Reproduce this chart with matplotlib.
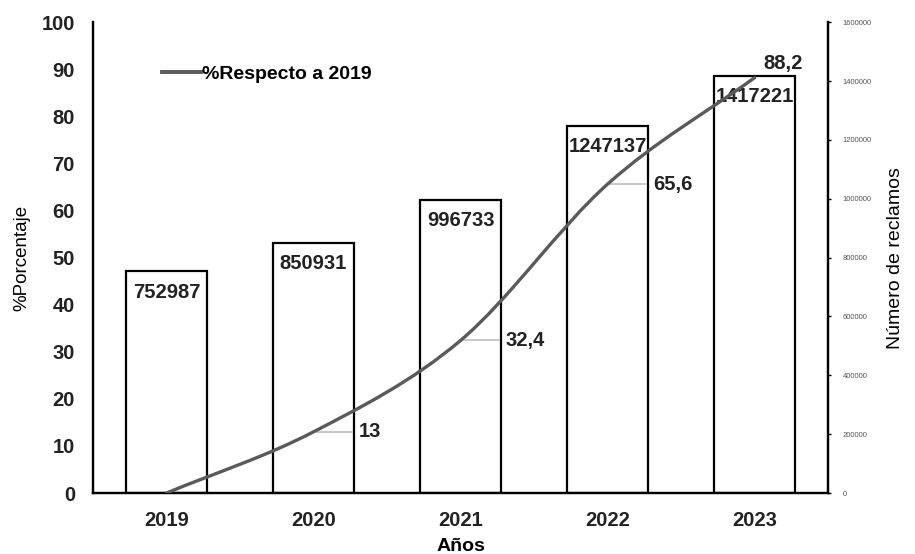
import matplotlib.pyplot as plt
from matplotlib.path import Path
from matplotlib.patches import PathPatch
from matplotlib.lines import Line2D
from matplotlib.ticker import FuncFormatter
import numpy as np

plt.rcParams['font.family'] = ['Liberation Sans', 'DejaVu Sans']

# --- Data ---
years = ['2019', '2020', '2021', '2022', '2023']
reclamos = [752987, 850931, 996733, 1247137, 1417221]
pct_respecto_2019 = [0, 13, 32.4, 65.6, 88.2]
pct_labels = ['', '13', '32,4', '65,6', '88,2']

x = np.arange(len(years))
line_color = '#5a5a5a'
text_color = '#222222'

fig = plt.figure(figsize=(9.15, 5.54), dpi=100)
ax = fig.add_axes([0.1016, 0.110, 0.8034, 0.850])
ax2 = ax.twinx()

# bars on the right axis (number of claims)
ax2.bar(x, reclamos, width=0.55, color='white', edgecolor='black', linewidth=1.6, zorder=2)
for xi, v in zip(x, reclamos):
    ax2.annotate(str(v), (xi, v), xytext=(0, -15), textcoords='offset points',
                 ha='center', va='center', fontsize=14.5, fontweight='bold', color=text_color)
ax2.set_ylim(0, 1600000)
ax2.set_yticks(np.arange(0, 1600001, 200000))
ax2.yaxis.set_major_formatter(FuncFormatter(lambda v, p: f'{int(v)}'))
ax2.tick_params(axis='y', labelsize=5.5, labelcolor='#555555', length=2.5, width=1, pad=8)
ax2.set_ylabel('Número de reclamos', fontsize=14, labelpad=11)

# keep the percentage line above the bars
ax.set_zorder(ax2.get_zorder() + 1)
ax.patch.set_visible(False)

# smoothed line (cubic Bezier segments through each point, reflected ends)
pts = np.column_stack([x, pct_respecto_2019]).astype(float)
padded = np.vstack([2 * pts[0] - pts[1], pts, 2 * pts[-1] - pts[-2]])
verts = [pts[0]]
codes = [Path.MOVETO]
for i in range(len(pts) - 1):
    p0, p1, p2, p3 = padded[i], padded[i + 1], padded[i + 2], padded[i + 3]
    verts += [p1 + (p2 - p0) / 6, p2 - (p3 - p1) / 6, p2]
    codes += [Path.CURVE4] * 3
ax.add_patch(PathPatch(Path(verts, codes), fill=False, edgecolor=line_color,
                       linewidth=2.4, capstyle='round', zorder=3))

# value labels with short leader lines
for xi, v, lab in zip(x, pct_respecto_2019, pct_labels):
    if not lab:
        continue
    if xi == x[-1]:
        ax.annotate(lab, (xi, v), xytext=(6, 10), textcoords='offset points',
                    ha='left', va='center', fontsize=14.5, fontweight='bold', color=text_color)
    else:
        ax.plot([xi + 0.02, xi + 0.26], [v, v], color='#bdbdbd', linewidth=1.2, zorder=2)
        ax.annotate(lab, (xi + 0.28, v), xytext=(3, 0), textcoords='offset points',
                    ha='left', va='center', fontsize=14.5, fontweight='bold', color=text_color)

ax.set_xlim(-0.5, len(years) - 0.5)
ax.set_ylim(0, 100)
ax.set_yticks(range(0, 101, 10))
ax.set_xticks(x)
ax.set_xticklabels(years)
ax.tick_params(axis='both', length=0, labelsize=14.5)
ax.tick_params(axis='y', pad=13)
ax.tick_params(axis='x', pad=13)
for lab in ax.get_xticklabels() + ax.get_yticklabels():
    lab.set_fontweight('bold')
    lab.set_color(text_color)
ax.set_ylabel('%Porcentaje', fontsize=13.5, labelpad=8)
ax.set_xlabel('Años', fontsize=14, fontweight='bold', labelpad=6)

for a in (ax, ax2):
    a.spines['top'].set_visible(False)
    for s in ('left', 'right', 'bottom'):
        a.spines[s].set_linewidth(1.6)

ax.legend(handles=[Line2D([], [], color=line_color, linewidth=2.8, label='%Respecto a 2019')],
          loc='upper left', bbox_to_anchor=(0.07, 0.946), frameon=False,
          handlelength=2.0, handletextpad=0.05, prop={'size': 14, 'weight': 'bold'})

fig.savefig('out.png', dpi=100)
